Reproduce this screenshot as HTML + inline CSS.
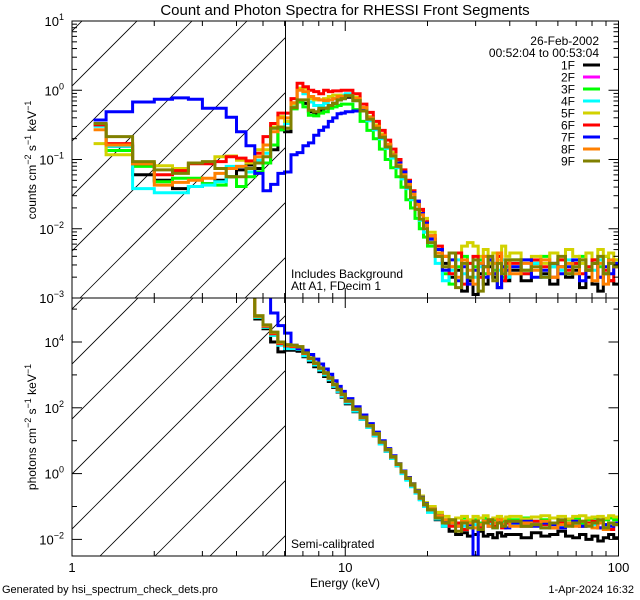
<!DOCTYPE html>
<html><head><meta charset="utf-8"><style>
body{margin:0;background:#fff}
svg{display:block;font-family:"Liberation Sans",sans-serif}
</style></head><body>
<svg id="c" width="640" height="600" viewBox="0 0 640 600">
<defs>
<clipPath id="ct"><rect x="72" y="21" width="546.5" height="277"/></clipPath>
<clipPath id="cb"><rect x="72" y="298" width="546.5" height="258"/></clipPath>
<clipPath id="ht"><rect x="72" y="21" width="213.5" height="277"/></clipPath>
<clipPath id="hb"><rect x="72" y="298" width="213.5" height="258"/></clipPath>
</defs>
<rect width="640" height="600" fill="#fff"/>
<text x="345" y="15" font-size="15" text-anchor="middle">Count and Photon Spectra for RHESSI Front Segments</text>
<g id="hatch"></g>
<g id="series"></g>
<g id="axes"></g>
<line x1="285.5" y1="21" x2="285.5" y2="556" stroke="#000" stroke-width="1"/>
<g id="legend"></g>
<text x="291" y="278" font-size="12">Includes Background</text>
<text x="291" y="290" font-size="12">Att A1, FDecim 1</text>
<text x="291" y="548" font-size="12">Semi-calibrated</text>
<text x="345" y="587" font-size="12" text-anchor="middle">Energy (keV)</text>
<text x="2" y="593" font-size="11">Generated by hsi_spectrum_check_dets.pro</text>
<text x="634" y="593" font-size="11" text-anchor="end">1-Apr-2024 16:32</text>
<text transform="translate(36,160) rotate(-90)" font-size="12" text-anchor="middle">counts cm<tspan dy="-5" font-size="9">−2</tspan><tspan dy="5"> s</tspan><tspan dy="-5" font-size="9">−1</tspan><tspan dy="5"> keV</tspan><tspan dy="-5" font-size="9">−1</tspan></text>
<text transform="translate(36,427) rotate(-90)" font-size="12" text-anchor="middle">photons cm<tspan dy="-5" font-size="9">−2</tspan><tspan dy="5"> s</tspan><tspan dy="-5" font-size="9">−1</tspan><tspan dy="5"> keV</tspan><tspan dy="-5" font-size="9">−1</tspan></text>
</svg>
<script>
// bin lower edges (keV); last upper edge 100
const binEdges = [1.2,1.333,1.667,2,2.333,2.667,3,3.333,3.667,4,4.333,4.667,5,5.333,5.667,
 6,6.333,6.667,7,7.333,7.667,8,8.333,8.667,9,9.333,9.667,
 10,10.667,11.333,12,12.667,13.333,14,14.667,15.333,16,16.667,17.333,18,18.667,19.333,
 20,21.333,22.667,24,25.333,26.667,28,29.333,30.667,32,33.333,34.667,36,37.333,38.667,
 40,44,48,52,56,60,64,68,72,76,80,84,88,92,96,100];
const seriesNames = ["1F","2F","3F","4F","5F","6F","7F","8F","9F"];
// counts, log10 x100
const cnt1F = [-50,-81,-122,-130,-142,-139,-135,-130,-125,-115,-108,-113,-105,-86,-57, -60,-25,-17,-19,-31,-33,-29,-26,-24,-19,-14,-12, -10,-15,-30,-42,-54,-66,-80,-92,-106,-120,-136,-150,-165,-180,-195, -215,-235,-250,-270,-260,-290,-275,-295,-265,-280,-255,-270,-285,-260,-275, -260,-275,-250,-265,-280,-255,-270,-260,-285,-270,-280,-290,-265,-275,-280];
const cnt2F = [];
const cnt3F = [-50,-87,-110,-132,-127,-127,-135,-137,-125,-139,-125,-118,-105,-79,-57, -55,-27,-17,-24,-36,-37,-33,-31,-26,-24,-22,-20, -20,-28,-45,-58,-70,-85,-100,-112,-125,-140,-158,-170,-185,-200,-212, -225,-240,-265,-280,-255,-240,-270,-255,-245,-265,-250,-260,-240,-270,-255, -245,-260,-250,-240,-255,-245,-265,-250,-240,-260,-245,-255,-240,-250,-245];
const cnt4F = [-52,-81,-142,-148,-148,-139,-137,-132,-110,-110,-118,-101,-91,-55,-53, -48,-22,3,-5,-17,-22,-22,-19,-14,-12,-8,-7, -5,-12,-28,-44,-57,-70,-84,-98,-112,-128,-142,-158,-172,-188,-205, -220,-250,-275,-260,-245,-265,-250,-270,-255,-240,-265,-250,-260,-245,-270, -255,-265,-250,-270,-255,-260,-245,-265,-250,-255,-260,-245,-265,-250,-255];
const cnt5F = [-77,-93,-105,-109,-113,-105,-105,-96,-95,-101,-105,-86,-86,-53,-38, -45,-20,3,3,-12,-14,-14,-12,-9,-7,-7,-9, -8,-10,-25,-38,-50,-63,-78,-90,-103,-118,-133,-148,-162,-175,-185, -205,-230,-240,-255,-235,-225,-220,-225,-240,-230,-250,-235,-245,-225,-240, -235,-245,-240,-250,-235,-245,-230,-240,-250,-235,-245,-230,-240,-235,-245];
const cnt6F = [-50,-77,-106,-122,-116,-106,-106,-103,-96,-98,-102,-91,-67,-48,-33, -33,-12,10,5,0,-2,-5,0,-2,-1,-1,0, 0,-5,-20,-32,-45,-58,-72,-85,-100,-115,-130,-145,-160,-172,-190, -210,-225,-240,-265,-235,-280,-250,-240,-270,-255,-245,-265,-240,-275,-250, -250,-265,-245,-255,-270,-245,-260,-250,-265,-255,-245,-270,-260,-275,-255];
const cnt7F = [-43,-31,-17,-13,-11,-13,-26,-26,-39,-60,-80,-120,-145,-136,-120, -118,-93,-90,-80,-76,-65,-58,-53,-45,-40,-34,-33, -31,-30,-28,-40,-55,-68,-80,-93,-105,-118,-132,-148,-160,-178,-192, -215,-230,-260,-245,-275,-255,-280,-260,-250,-270,-245,-265,-285,-255,-260, -255,-245,-270,-260,-250,-265,-255,-245,-275,-260,-250,-270,-255,-265,-250];
const cnt8F = [-57,-79,-106,-137,-133,-130,-127,-120,-113,-110,-113,-96,-79,-60,-40, -40,-18,0,-2,-9,-12,-14,-15,-14,-12,-9,-9, -8,-12,-25,-40,-52,-65,-78,-93,-108,-122,-136,-150,-165,-180,-195, -210,-235,-240,-255,-270,-245,-260,-280,-250,-240,-265,-250,-235,-260,-245, -265,-250,-260,-245,-270,-255,-250,-265,-245,-260,-275,-250,-280,-245,-255];
const cnt9F = [-48,-67,-103,-115,-120,-105,-103,-113,-125,-125,-113,-105,-96,-55,-53, -55,-25,-14,-14,-29,-31,-26,-26,-22,-19,-14,-12, -8,-15,-30,-42,-55,-68,-82,-95,-110,-125,-140,-155,-172,-186,-200, -220,-240,-255,-235,-285,-250,-270,-245,-290,-255,-240,-275,-250,-265,-245, -245,-260,-255,-270,-250,-240,-265,-255,-245,-260,-250,-240,-265,-250,-255];
// photons, log10 x100
const pho1F = [600,600,600,600,600,600,600,600,600,600,600,470,440,400,370, 375,375,372,355,340,325,310,295,280,262,248,232, 212,188,165,140,115,90,68,46,24,2,-18,-38,-58,-78,-98, -115,-140,-160,-175,-185,-180,-190,-185,-175,-190,-185,-195,-180,-190,-185, -185,-195,-180,-190,-185,-175,-190,-195,-185,-200,-190,-205,-195,-185,-195];
const pho2F = [];
const pho3F = [600,600,600,600,600,600,600,600,600,600,600,475,445,420,393, 385,385,382,362,348,333,318,303,288,268,253,238, 218,193,168,143,118,93,70,48,26,3,-17,-37,-57,-77,-95, -105,-125,-140,-145,-150,-135,-145,-140,-150,-135,-145,-140,-135,-145,-140, -140,-135,-145,-140,-135,-145,-140,-135,-150,-140,-135,-145,-140,-135,-140];
const pho4F = [600,600,600,600,600,600,600,600,600,600,600,475,445,420,390, 380,380,378,358,345,330,315,300,285,265,250,235, 215,190,165,140,115,90,68,46,24,0,-20,-40,-60,-80,-100, -118,-138,-160,-155,-150,-160,-150,-155,-160,-150,-155,-165,-150,-160,-150, -155,-160,-150,-165,-155,-160,-150,-155,-160,-150,-155,-165,-160,-150,-155];
const pho5F = [600,600,600,600,600,600,600,600,600,600,600,480,450,428,398, 390,388,385,368,352,337,322,307,292,272,257,242, 222,197,172,147,122,97,74,52,30,8,-12,-30,-50,-68,-88, -100,-118,-130,-140,-135,-130,-140,-130,-135,-128,-140,-135,-130,-138,-132, -130,-138,-132,-128,-135,-130,-138,-130,-128,-135,-132,-130,-136,-128,-132];
const pho6F = [600,600,600,600,600,600,600,600,600,600,600,478,448,425,395, 388,386,383,365,350,335,320,305,290,270,255,240, 220,195,170,145,120,95,72,50,28,5,-15,-35,-55,-75,-95, -110,-130,-145,-160,-150,-170,-150,-145,-165,-150,-145,-160,-150,-165,-150, -150,-160,-145,-155,-165,-150,-155,-145,-160,-150,-145,-165,-155,-170,-150];
const pho7F = [600,600,600,600,600,600,600,600,600,600,600,600,600,488,450, 427,390,380,375,362,348,333,318,302,282,265,250, 228,203,178,152,126,100,76,54,30,8,-12,-32,-52,-72,-92, -108,-128,-145,-150,-160,-150,-155,-250,-155,-145,-160,-150,-145,-155,-165, -150,-145,-160,-150,-155,-165,-150,-145,-160,-155,-150,-165,-155,-160,-150];
const pho8F = [600,600,600,600,600,600,600,600,600,600,600,478,450,428,398, 390,388,385,366,351,336,321,306,291,271,256,241, 221,196,171,146,121,96,73,51,29,6,-14,-34,-54,-74,-94, -108,-128,-140,-150,-160,-145,-150,-165,-155,-145,-160,-150,-140,-155,-145, -160,-150,-155,-145,-165,-155,-150,-160,-145,-155,-165,-150,-170,-150,-155];
const pho9F = [600,600,600,600,600,600,600,600,600,600,600,480,452,430,400, 392,390,386,367,351,336,321,306,291,271,256,241, 221,196,171,146,121,96,73,51,29,6,-14,-34,-54,-74,-94, -110,-135,-150,-140,-175,-150,-165,-145,-170,-150,-140,-165,-150,-160,-145, -145,-160,-155,-165,-150,-140,-160,-150,-145,-160,-150,-140,-165,-150,-155];
const seriesColors = ["#000000","#ff00ff","#00ff00","#00ffff","#d2d200","#ff0000","#0000ff","#ff8000","#808000"];
const countSeries = [cnt1F,cnt2F,cnt3F,cnt4F,cnt5F,cnt6F,cnt7F,cnt8F,cnt9F];
const photonSeries = [pho1F,pho2F,pho3F,pho4F,pho5F,pho6F,pho7F,pho8F,pho9F];

const NS="http://www.w3.org/2000/svg";
function mk(t,a,p){const e=document.createElementNS(NS,t);for(const k in a)e.setAttribute(k,a[k]);p.appendChild(e);return e;}
const X=e=>72+273.25*Math.log10(e);
const Yt=l=>21+(1-l)*69.25;
const Yb=l=>342-(l-4)*32.9;
const TOP=[21,298], BOT=[298,556];

// hatching
const hg=document.getElementById('hatch');
[[TOP,'ht',80],[BOT,'hb',100]].forEach(([p,cid,x0])=>{
  const g=mk('g',{'clip-path':'url(#'+cid+')'},hg);
  for(let c=x0-55*8;c<300;c+=55){
    mk('line',{x1:c,y1:p[1],x2:c+400,y2:p[1]-400,stroke:'#000','stroke-width':0.8},g);
  }
});

// series
const sg=document.getElementById('series');
function drawPanel(data,Y,cid,panel){
  const g=mk('g',{'clip-path':'url(#'+cid+')'},sg);
  data.forEach((vals,i)=>{
    if(!vals.length)return;
    let d='';
    for(let b=0;b<vals.length;b++){
      const y=Y(vals[b]/100).toFixed(1);
      const x0=X(binEdges[b]).toFixed(1), x1=X(binEdges[b+1]).toFixed(1);
      d+=(b===0?'M':'L')+x0+','+y+'L'+x1+','+y;
    }
    const p=mk('path',{d:d,fill:'none',stroke:seriesColors[i],'stroke-width':3,'stroke-linejoin':'miter'},g);
    
    
  });
}
drawPanel(countSeries,Yt,'ct','count');
drawPanel(photonSeries,Yb,'cb','photon');

// axes
const ag=document.getElementById('axes');
function frame(p,name){
  const r=mk('rect',{x:72,y:p[0],width:546.5,height:p[1]-p[0],fill:'none',stroke:'#000','stroke-width':1},ag);
  
  
  // x ticks
  for(let dec=1;dec<=10;dec*=10){
    for(let m=1;m<=9;m++){
      const e=dec*m; if(e>100)break;
      const x=X(e), L=m===1?10:5;
      mk('line',{x1:x,y1:p[1],x2:x,y2:p[1]-L,stroke:'#000'},ag);
      mk('line',{x1:x,y1:p[0],x2:x,y2:p[0]+L,stroke:'#000'},ag);
    }
  }
  const x=X(100);mk('line',{x1:x,y1:p[1],x2:x,y2:p[1]-10,stroke:'#000'},ag);
}
frame(TOP,'count-panel-frame');frame(BOT,'photon-panel-frame');
function yticks(Y,lo,hi,step,p,name){
  for(let d=lo;d<=hi;d+=step){
    const y=Y(d);
    if(y>=p[0]-1&&y<=p[1]+1){
      mk('line',{x1:72,y1:y,x2:82,y2:y,stroke:'#000'},ag);
      mk('line',{x1:618.5,y1:y,x2:608.5,y2:y,stroke:'#000'},ag);
      const t=mk('text',{x:64,y:y+5,'font-size':13,'text-anchor':'end'},ag);
      
      
      t.textContent='10';
      const s=mk('tspan',{dy:-6,'font-size':9},t);s.textContent=d<0?'−'+(-d):''+d;
    }
    if(step===1){
      for(let m=2;m<=9;m++){const ym=Y(d+Math.log10(m));if(ym>=p[0]&&ym<=p[1]){
        mk('line',{x1:72,y1:ym,x2:77,y2:ym,stroke:'#000'},ag);
        mk('line',{x1:618.5,y1:ym,x2:613.5,y2:ym,stroke:'#000'},ag);}}
    } else {
      const ym=Y(d+1);if(ym>=p[0]&&ym<=p[1]){
        mk('line',{x1:72,y1:ym,x2:77,y2:ym,stroke:'#000'},ag);
        mk('line',{x1:618.5,y1:ym,x2:613.5,y2:ym,stroke:'#000'},ag);}
    }
  }
}
yticks(Yt,-3,1,1,TOP,'count-y');
yticks(Yb,-4,6,2,BOT,'photon-y');
[[1,'1'],[10,'10'],[100,'100']].forEach(([e,s])=>{
  const t=mk('text',{x:X(e),y:572,'font-size':13,'text-anchor':'middle'},ag);
  
  
  t.textContent=s;
});

// legend
const lg=document.getElementById('legend');
const d1=mk('text',{x:599,y:45,'font-size':12,'text-anchor':'end'},lg);d1.textContent='26-Feb-2002';


const d2=mk('text',{x:599,y:57,'font-size':12,'text-anchor':'end'},lg);d2.textContent='00:52:04 to 00:53:04';


seriesNames.forEach((n,i)=>{
  const y=65+i*12;
  const g=mk('g',{},lg);
  
  
  const t=mk('text',{x:575,y:y+4.5,'font-size':12,'text-anchor':'end'},g);t.textContent=n;
  mk('line',{x1:583,y1:y,x2:600,y2:y,stroke:seriesColors[i],'stroke-width':3},g);
});
</script>
</body></html>
